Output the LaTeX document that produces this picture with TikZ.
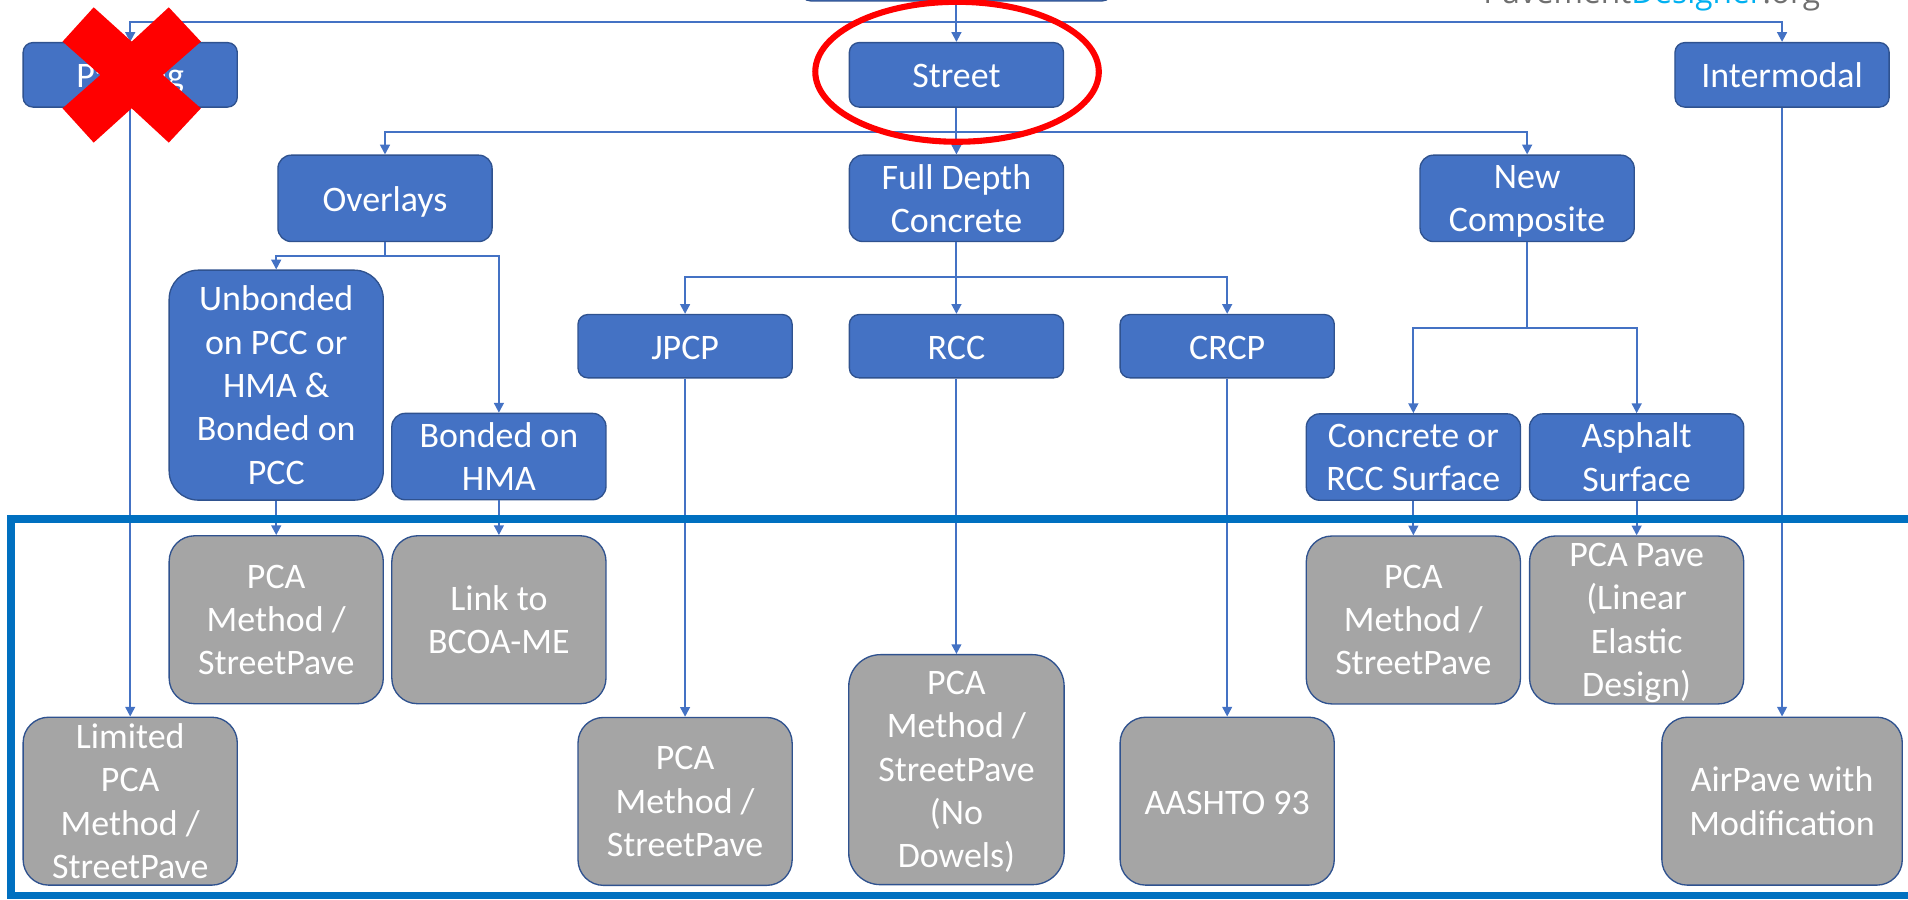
\documentclass[tikz,border=0pt]{standalone}
\usepackage{fontspec}
\setmainfont{Carlito}
\newfontfamily\logofont{Open Sans}
\usetikzlibrary{arrows.meta}
\definecolor{boxblue}{HTML}{4472C4}
\definecolor{boxedge}{HTML}{2F528F}
\definecolor{boxgray}{HTML}{A5A5A5}
\definecolor{framebl}{HTML}{0070C0}
\definecolor{logogray}{HTML}{6F6F6F}
\definecolor{logocyan}{HTML}{00B0F0}
\begin{document}
\begin{tikzpicture}[x=1pt,y=-1pt,
  bx/.style={draw=boxedge, line width=1.1pt, text=white, align=center, inner sep=0pt,
             font=\fontsize{29.5}{35.6}\selectfont, text depth=0pt,
             execute at begin node={\rule{0pt}{21.5pt}}},
  bb/.style={bx, fill=boxblue},
  gb/.style={bx, fill=boxgray},
  small/.style={minimum width=176pt, minimum height=53pt, rounded corners=8pt},
  mid/.style={minimum width=176pt, minimum height=71pt, rounded corners=11pt},
  gmid/.style={minimum width=176pt, minimum height=138pt, rounded corners=21pt},
  arr/.style={draw=boxblue, line width=1.6pt, -{Triangle[length=8pt,width=8pt]}},
  ln/.style={draw=boxblue, line width=1.6pt}]
\useasboundingbox (0,0) rectangle (1568,739);
\clip (0,0) rectangle (1568,739);

% level 0
\node[draw=boxedge, line width=1.1pt, fill=boxblue, minimum width=257pt, minimum height=50pt, rounded corners=9pt] (root) at (786,-24.2) {};
% level 1
\node[bb, small] (park) at (107,61.5) {Parking};
\node[bb, small] (street) at (786,61.5) {Street};
\node[bb, small] (inter) at (1464.5,61.5) {Intermodal};
% level 2
\node[bb, mid] (overlays) at (316.4,163) {Overlays};
\node[bb, mid] (fdc) at (786,163) {Full Depth\\Concrete};
\node[bb, mid] (newc) at (1255,163) {New\\Composite};
% level 3
\node[bb, minimum width=176pt, minimum height=189pt, rounded corners=24pt] (unb) at (227,316.5)
  {Unbonded\\on PCC or\\HMA \&\\Bonded on\\PCC};
\node[bb, mid] (bhma) at (410,375.2) {Bonded on\\HMA};
\node[bb, small, minimum height=52pt] (jpcp) at (563,284.5) {JPCP};
\node[bb, small, minimum height=52pt] (rcc) at (786,284.5) {RCC};
\node[bb, small, minimum height=52pt] (crcp) at (1008.5,284.5) {CRCP};
\node[bb, mid] (cors) at (1161.5,375.6) {Concrete or\\RCC Surface};
\node[bb, mid] (asph) at (1345,375.6) {Asphalt\\Surface};
% gray results
\node[gb, gmid] (g1) at (227,509.3) {PCA\\Method /\\StreetPave};
\node[gb, gmid] (g2) at (410,509.3) {Link to\\BCOA-ME};
\node[gb, gmid] (g3) at (107,658.4) {Limited\\PCA\\Method /\\StreetPave};
\node[gb, gmid] (g4) at (563,658.6) {PCA\\Method /\\StreetPave};
\node[gb, minimum width=177pt, minimum height=189pt, rounded corners=26pt] (g5) at (786,632.5)
  {PCA\\Method /\\StreetPave\\(No\\Dowels)};
\node[gb, gmid] (g6) at (1008.5,658.4) {AASHTO 93};
\node[gb, gmid] (g7) at (1161.5,509.5) {PCA\\Method /\\StreetPave};
\node[gb, gmid] (g8) at (1345,509.5) {PCA Pave\\(Linear\\Elastic\\Design)};
\node[gb, gmid, minimum width=197.6pt] (g9) at (1464.5,658.4) {AirPave with\\Modification};

% junctions
\coordinate (j0) at (786,17.8);
\coordinate (j1) at (786,108.2);
\coordinate (j2) at (316.4,210.4);
\coordinate (j3) at (786,227.6);
\coordinate (j4) at (1255,269.3);

% connectors
\draw[arr] (root.south) -- (street.north);
\draw[arr] (j0) -| (park.north);
\draw[arr] (j0) -| (inter.north);
\draw[arr] (street.south) -- (fdc.north);
\draw[arr] (j1) -| (overlays.north);
\draw[arr] (j1) -| (newc.north);
\draw[ln] (overlays.south) -- (j2);
\draw[arr] (j2) -| (unb.north);
\draw[arr] (j2) -| (bhma.north);
\draw[arr] (fdc.south) -- (rcc.north);
\draw[arr] (j3) -| (jpcp.north);
\draw[arr] (j3) -| (crcp.north);
\draw[ln] (newc.south) -- (j4);
\draw[arr] (j4) -| (cors.north);
\draw[arr] (j4) -| (asph.north);
\draw[arr] (park.south) -- (g3.north);
\draw[arr] (unb.south) -- (g1.north);
\draw[arr] (bhma.south) -- (g2.north);
\draw[arr] (jpcp.south) -- (g4.north);
\draw[arr] (rcc.south) -- (g5.north);
\draw[arr] (crcp.south) -- (g6.north);
\draw[arr] (cors.south) -- (g7.north);
\draw[arr] (asph.south) -- (g8.north);
\draw[arr] (inter.south) -- (g9.north);

% blue frame
\draw[framebl, line width=6.3pt] (9.2,426.4) rectangle (1620,736);

% red marks
\fill[red] (77,6) -- (108.2,34.2) -- (138.7,6) -- (165.1,34.2) -- (133.9,61.6) -- (165.1,89)
  -- (138.7,117.2) -- (108.2,89) -- (77,117.2) -- (51.4,89) -- (82.5,61.6) -- (51.4,34.2) -- cycle;
\draw[red, line width=5pt] (786.5,59) ellipse [x radius=116.5, y radius=57.5];

% logo
\node[anchor=base east, inner sep=0pt, font=\logofont\fontsize{26}{30}\selectfont] (logo) at (1496,3)
  {\textcolor{logogray}{Pavement}\textcolor{logocyan}{Designer}\textcolor{logogray}{.org}};
\end{tikzpicture}
\end{document}
